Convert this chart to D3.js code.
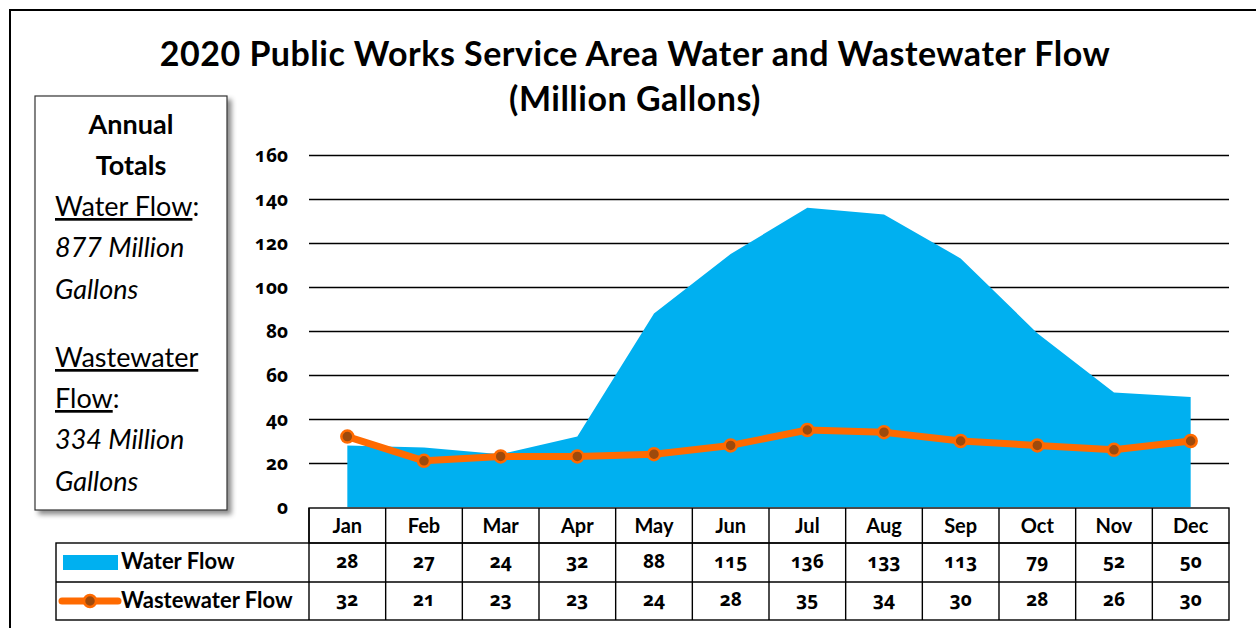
<!DOCTYPE html>
<meta charset="utf-8">
<style>
  body { margin: 0; background: #fff; }
  svg { font-family: Lato, "Open Sans", sans-serif; }
  .num { font-family: "Open Sans", Lato, sans-serif; font-variant-numeric: oldstyle-nums; font-feature-settings: "onum"; }
</style>
<body>
<script src="https://cdn.jsdelivr.net/npm/d3@7"></script>
<script>
var months = ["Jan","Feb","Mar","Apr","May","Jun","Jul","Aug","Sep","Oct","Nov","Dec"];
var waterFlow = [28, 27, 24, 32, 88, 115, 136, 133, 113, 79, 52, 50];
var wastewaterFlow = [32, 21, 23, 23, 24, 28, 35, 34, 30, 28, 26, 30];
var yTicks = [0, 20, 40, 60, 80, 100, 120, 140, 160];
var seriesNames = ["Water Flow", "Wastewater Flow"];
var titleLines = ["2020 Public Works Service Area Water and Wastewater Flow", "(Million Gallons)"];

var width = 1256, height = 628;
var waterColor = "#00b0f0", wasteColor = "#ff6a00", markerColor = "#9e4a0c";

var svg = d3.select("body").append("svg")
  .attr("width", width)
  .attr("height", height);

var defs = svg.append("defs");
var shadow = defs.append("filter").attr("id", "shadow")
  .attr("x", "-10%").attr("y", "-10%").attr("width", "130%").attr("height", "130%");
shadow.append("feDropShadow")
  .attr("dx", 4).attr("dy", 4).attr("stdDeviation", 2.5)
  .attr("flood-color", "#000").attr("flood-opacity", 0.45);

// outer frame (runs off the right and bottom edge)
svg.append("rect")
  .attr("x", 10).attr("y", 10)
  .attr("width", width + 20).attr("height", height + 20)
  .attr("fill", "none").attr("stroke", "#000").attr("stroke-width", 2);

// title
svg.selectAll("text.title")
  .data(titleLines)
  .enter().append("text")
  .attr("class", "title")
  .attr("x", 635)
  .attr("y", function(d, i) { return 66 + i * 45; })
  .attr("text-anchor", "middle")
  .style("font-size", "34px")
  .style("font-weight", "bold")
  .style("letter-spacing", "0.5px")
  .text(function(d) { return d; });

var x = d3.scaleBand().domain(months).range([309, 1229]);
var y = d3.scaleLinear().domain([0, 160]).range([507, 155]);
var cx = function(m) { return x(m) + x.bandwidth() / 2; };

// gridlines
svg.append("g")
  .attr("transform", "translate(309,0)")
  .call(d3.axisLeft(y).tickValues(yTicks.slice(1)).tickSize(-920).tickFormat(""))
  .call(function(g) {
    g.select(".domain").remove();
    g.selectAll("line").attr("stroke", "#000").attr("stroke-width", 1.6);
  });

// y labels
svg.append("g")
  .attr("transform", "translate(288,0)")
  .call(d3.axisLeft(y).tickValues(yTicks).tickSize(0).tickPadding(0))
  .call(function(g) {
    g.select(".domain").remove();
    g.selectAll("text")
      .attr("class", "num")
      .style("font-size", "19px")
      .style("font-weight", "bold")
      .attr("fill", "#000");
  });

// water area
var area = d3.area()
  .x(function(d, i) { return cx(months[i]); })
  .y0(y(0))
  .y1(function(d) { return y(d); });

svg.append("path")
  .datum(waterFlow)
  .attr("d", area)
  .attr("fill", waterColor);

// wastewater line
var line = d3.line()
  .x(function(d, i) { return cx(months[i]); })
  .y(function(d) { return y(d); });

svg.append("path")
  .datum(wastewaterFlow)
  .attr("d", line)
  .attr("fill", "none")
  .attr("stroke", wasteColor)
  .attr("stroke-width", 7)
  .attr("stroke-linejoin", "round");

svg.selectAll("circle.pt")
  .data(wastewaterFlow)
  .enter().append("circle")
  .attr("class", "pt")
  .attr("cx", function(d, i) { return cx(months[i]); })
  .attr("cy", function(d) { return y(d); })
  .attr("r", 6)
  .attr("fill", markerColor)
  .attr("stroke", wasteColor)
  .attr("stroke-width", 2.5);

// data table
var rowTop = [508, 543, 582, 620];
var table = svg.append("g")
  .attr("fill", "none")
  .attr("stroke", "#000")
  .attr("stroke-width", 1.4);

table.append("rect")
  .attr("x", 309).attr("y", rowTop[0])
  .attr("width", 920).attr("height", rowTop[1] - rowTop[0]);
table.append("rect")
  .attr("x", 56).attr("y", rowTop[1])
  .attr("width", 1229 - 56).attr("height", rowTop[3] - rowTop[1]);
table.append("line")
  .attr("x1", 56).attr("x2", 1229)
  .attr("y1", rowTop[2]).attr("y2", rowTop[2]);
table.selectAll("line.col")
  .data(months)
  .enter().append("line")
  .attr("class", "col")
  .attr("x1", function(m) { return x(m); })
  .attr("x2", function(m) { return x(m); })
  .attr("y1", rowTop[0]).attr("y2", rowTop[3]);

svg.selectAll("text.month")
  .data(months)
  .enter().append("text")
  .attr("class", "month")
  .attr("x", cx)
  .attr("y", 533)
  .attr("text-anchor", "middle")
  .style("font-size", "20px")
  .style("font-weight", "bold")
  .text(function(d) { return d; });

[waterFlow, wastewaterFlow].forEach(function(vals, r) {
  svg.selectAll("text.val" + r)
    .data(vals)
    .enter().append("text")
    .attr("class", "val" + r + " num")
    .attr("x", function(d, i) { return cx(months[i]); })
    .attr("y", r === 0 ? 568 : 606)
    .attr("text-anchor", "middle")
    .style("font-size", "19px")
    .style("font-weight", "bold")
    .text(function(d) { return d; });
});

// table legend keys
svg.append("rect")
  .attr("x", 63).attr("y", 555)
  .attr("width", 55).attr("height", 15)
  .attr("fill", waterColor);
svg.append("line")
  .attr("x1", 62).attr("x2", 118)
  .attr("y1", 601).attr("y2", 601)
  .attr("stroke", wasteColor).attr("stroke-width", 7)
  .attr("stroke-linecap", "round");
svg.append("circle")
  .attr("cx", 90).attr("cy", 601).attr("r", 6)
  .attr("fill", markerColor).attr("stroke", wasteColor).attr("stroke-width", 2.5);
svg.selectAll("text.key")
  .data(seriesNames)
  .enter().append("text")
  .attr("class", "key")
  .attr("x", 121)
  .attr("y", function(d, i) { return i === 0 ? 569 : 608; })
  .style("font-size", "22px")
  .style("font-weight", "bold")
  .text(function(d) { return d; });

// annual totals box
var box = svg.append("g");
box.append("rect")
  .attr("x", 35).attr("y", 96)
  .attr("width", 192).attr("height", 414)
  .attr("fill", "#fff")
  .attr("stroke", "#333").attr("stroke-width", 1.2)
  .attr("filter", "url(#shadow)");

var boxLines = [
  { t: "Annual", y: 134, bold: true, center: true },
  { t: "Totals", y: 175, bold: true, center: true },
  { t: "Water Flow", tail: ":", y: 216, underline: true },
  { t: "877 Million", y: 257, italic: true },
  { t: "Gallons", y: 299, italic: true },
  { t: "Wastewater", y: 367, underline: true },
  { t: "Flow", tail: ":", y: 408, underline: true },
  { t: "334 Million", y: 449, italic: true },
  { t: "Gallons", y: 491, italic: true }
];

boxLines.forEach(function(d) {
  var t = box.append("text")
    .attr("x", d.center ? 131 : 55)
    .attr("y", d.y)
    .attr("text-anchor", d.center ? "middle" : "start")
    .style("font-size", "27px")
    .style("font-weight", d.bold ? "bold" : "normal")
    .style("font-style", d.italic ? "italic" : "normal");
  t.append("tspan")
    .style("text-decoration", d.underline ? "underline" : "none")
    .text(d.t);
  if (d.tail) t.append("tspan").text(d.tail);
});
</script>
</body>
